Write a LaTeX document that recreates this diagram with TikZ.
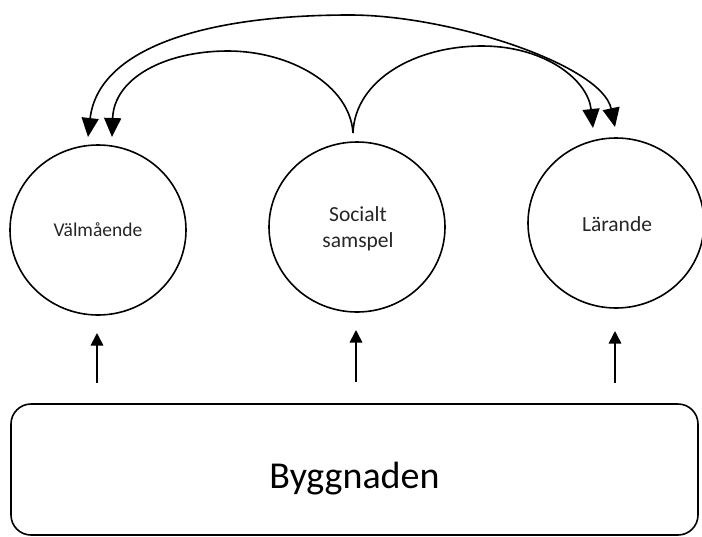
\documentclass[tikz,border=0pt]{standalone}
\usepackage{fontspec}
\setmainfont{Carlito}
\usetikzlibrary{arrows.meta,shapes.geometric}
\begin{document}
\begin{tikzpicture}[x=1pt,y=-1pt,
  ln/.style={line width=1.6pt, draw=black},
  bubble/.style={ln, ellipse, minimum width=176pt, minimum height=170pt, inner sep=0pt},
  lbl/.style={inner sep=0pt, text=black!85},
  bigtip/.style={ln, -{Triangle[length=19pt,width=17pt]}},
  twotip/.style={ln, {Triangle[length=19pt,width=17pt]}-{Triangle[length=19pt,width=17pt]}},
  uptip/.style={ln, -{Triangle[length=12.5pt,width=12.5pt]}},
  basebox/.style={ln, rounded corners=20pt, minimum width=687pt, minimum height=131pt,
    inner sep=0pt, text height=38pt, text depth=0pt, font=\fontsize{38}{46}\selectfont}]
\useasboundingbox (0,0) rectangle (702,536);

% circles
\node[bubble] (L) at (98,230) {};
\node[bubble] (M) at (357,227) {};
\node[bubble] (R) at (616,223) {};

% labels
\node[lbl, anchor=base, font=\fontsize{19.5}{24}\selectfont] (tL) at (98,236.7) {Välmående};
\node[lbl, align=center, font=\fontsize{21.5}{26}\selectfont] (tM) at (358,229) {Socialt\\samspel};
\node[lbl, anchor=base, font=\fontsize{21.5}{26}\selectfont] (tR) at (617,231.7) {Lärande};

% base box
\node[basebox] (B) at (354.5,469.5) {Byggnaden};

% curve end points
\coordinate (src) at (353,133);
\coordinate (tipLo) at (88,137);
\coordinate (tipLi) at (112,137);
\coordinate (tipRi) at (593,128);
\coordinate (tipRo) at (615,127);

% outer double-headed curve
\draw[twotip] (tipLo) .. controls (98,50) and (200,15) .. (350,15)
  .. controls (450,15) and (602,65) .. (tipRo);
% inner curves from Socialt samspel
\draw[bigtip] (src) .. controls (350,85) and (290,51) .. (228,51)
  .. controls (165,51) and (114,78) .. (tipLi);
\draw[bigtip] (src) .. controls (355,80) and (415,46) .. (482,46)
  .. controls (545,46) and (588,80) .. (tipRi);

% upward arrows
\coordinate (u1s) at (97,383);  \coordinate (u1e) at (97,333);
\coordinate (u2s) at (356,382); \coordinate (u2e) at (356,330);
\coordinate (u3s) at (615,383); \coordinate (u3e) at (615,331);
\draw[uptip] (u1s) -- (u1e);
\draw[uptip] (u2s) -- (u2e);
\draw[uptip] (u3s) -- (u3e);
\end{tikzpicture}
\end{document}
